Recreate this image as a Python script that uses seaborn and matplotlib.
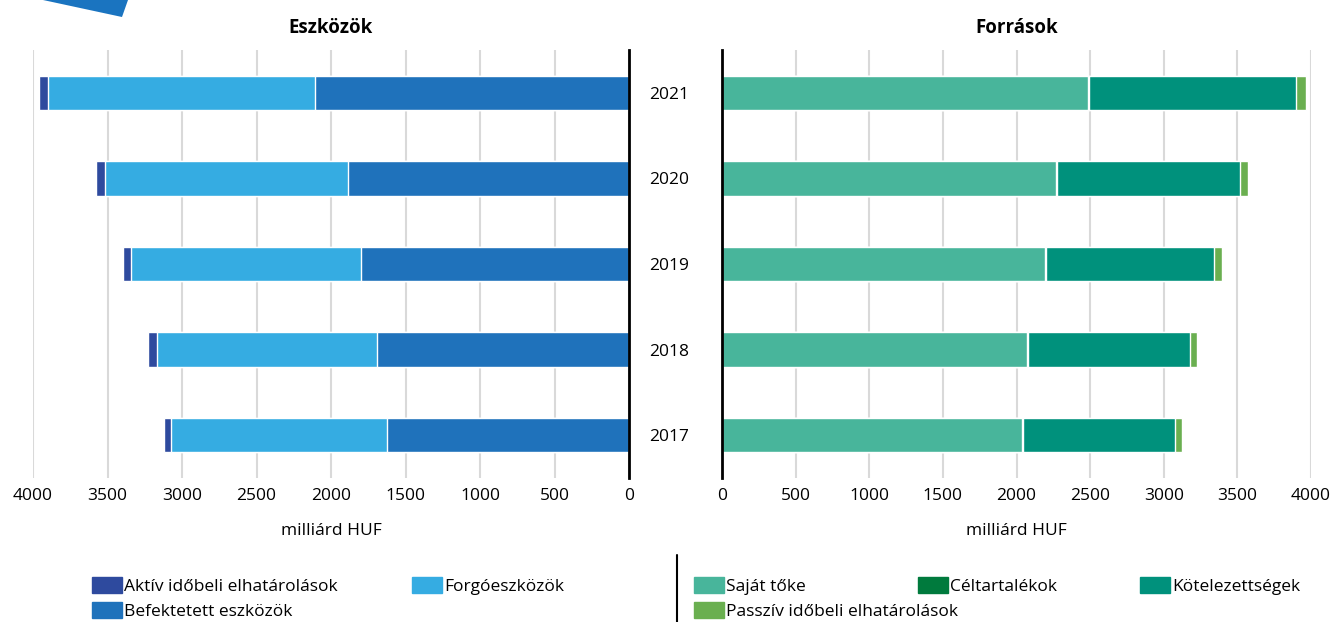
import matplotlib
matplotlib.use("Agg")
import matplotlib.pyplot as plt
import seaborn as sns
import numpy as np
import pandas as pd
from matplotlib.patches import Patch, Polygon
from matplotlib.lines import Line2D

years = ["2021", "2020", "2019", "2018", "2017"]

# Eszközök (milliárd HUF)
befektetett = [2108, 1889, 1802, 1694, 1627]
forgo = [1794, 1626, 1537, 1477, 1444]
aktiv = [60, 59, 58, 56, 47]

# Források (milliárd HUF)
sajat = [2487, 2270, 2193, 2068, 2039]
celtartalek = [8, 8, 8, 8, 8]
kotelezettseg = [1400, 1237, 1142, 1104, 1031]
passziv = [68, 59, 54, 47, 45]

c_aktiv = "#2e4a9e"
c_forgo = "#35ace2"
c_befekt = "#1f72bb"
c_sajat = "#48b59b"
c_cel = "#007a3d"
c_kot = "#00917c"
c_pass = "#6aaf50"

sns.set_theme(style="white")
plt.rcParams['font.family'] = ['Open Sans', 'DejaVu Sans']
plt.rcParams['text.color'] = 'black'
plt.rcParams['axes.labelcolor'] = 'black'
plt.rcParams['xtick.color'] = 'black'
plt.rcParams['ytick.color'] = 'black'

W, H = 1334, 622
fig = plt.figure(figsize=(13.34, 6.22), dpi=100)
ax1 = fig.add_axes([33/W, 1-478/H, (629-33)/W, 428/H])
ax2 = fig.add_axes([722/W, 1-478/H, (1311-722)/W, 428/H])


def stack(ax, parts, colors):
    cum = np.cumsum(np.array(parts), axis=0)
    for vals, col in zip(cum[::-1], colors[::-1]):
        df = pd.DataFrame({"ev": years, "v": vals})
        sns.barplot(data=df, x="v", y="ev", order=years, orient="h",
                    color=col, width=0.4, ax=ax, saturation=1)


stack(ax1, [befektetett, forgo, aktiv], [c_befekt, c_forgo, c_aktiv])
stack(ax2, [sajat, celtartalek, kotelezettseg, passziv],
      [c_sajat, c_cel, c_kot, c_pass])

ticks = np.arange(0, 4001, 500)
for ax in (ax1, ax2):
    ax.set_xticks(ticks)
    ax.set_xticklabels([str(t) for t in ticks], fontsize=12.5)
    ax.set_ylim(4.5, -0.5)
    ax.grid(axis="x", color="#d9d9d9", linewidth=1.5)
    ax.set_axisbelow(True)
    ax.set_xlabel("milliárd HUF", fontsize=12.5, labelpad=14)
    ax.set_ylabel("")
    ax.tick_params(axis="both", length=0, pad=7)
    for s in ax.spines.values():
        s.set_visible(False)

ax1.set_xlim(4000, 0)
ax1.set_yticklabels([])
ax1.spines["right"].set_visible(True)
ax1.spines["right"].set_color("black")
ax1.spines["right"].set_linewidth(2)

ax2.set_xlim(0, 4000)
ax2.set_yticks(range(len(years)))
ax2.set_yticklabels(years, fontsize=12.5)
ax2.tick_params(axis="y", pad=24)
ax2.spines["left"].set_visible(True)
ax2.spines["left"].set_color("black")
ax2.spines["left"].set_linewidth(2)

ax1.set_title("Eszközök", fontsize=13.5, fontweight="bold", pad=12)
ax2.set_title("Források", fontsize=13.5, fontweight="bold", pad=12)

# decorative corner shape
fig.patches.append(Polygon([[43/W, 1.0], [128/W, 1.0], [122/W, 1-17/H]],
                           closed=True, transform=fig.transFigure,
                           facecolor="#1a74c0", edgecolor="none"))

# legend entries placed one by one (square left edge x, row center y)
entries = [
    ("Aktív időbeli elhatárolások", c_aktiv, 92, 586),
    ("Forgóeszközök", c_forgo, 412, 586),
    ("Befektetett eszközök", c_befekt, 92, 611),
    ("Saját tőke", c_sajat, 694, 586),
    ("Céltartalékok", c_cel, 918, 586),
    ("Kötelezettségek", c_kot, 1140, 586),
    ("Passzív időbeli elhatárolások", c_pass, 694, 611),
]
for lab, col, x, y in entries:
    fig.legend(handles=[Patch(color=col, label=lab)], loc="center left",
               bbox_to_anchor=(x/W, 1-y/H), frameon=False, fontsize=12.5,
               handlelength=1.7, handleheight=1.0, handletextpad=0.15,
               borderaxespad=0, borderpad=0)

fig.add_artist(Line2D([677/W, 677/W], [0, 1-555/H],
                      transform=fig.transFigure, color="black", linewidth=1.5))

fig.savefig("out.png", dpi=100)
